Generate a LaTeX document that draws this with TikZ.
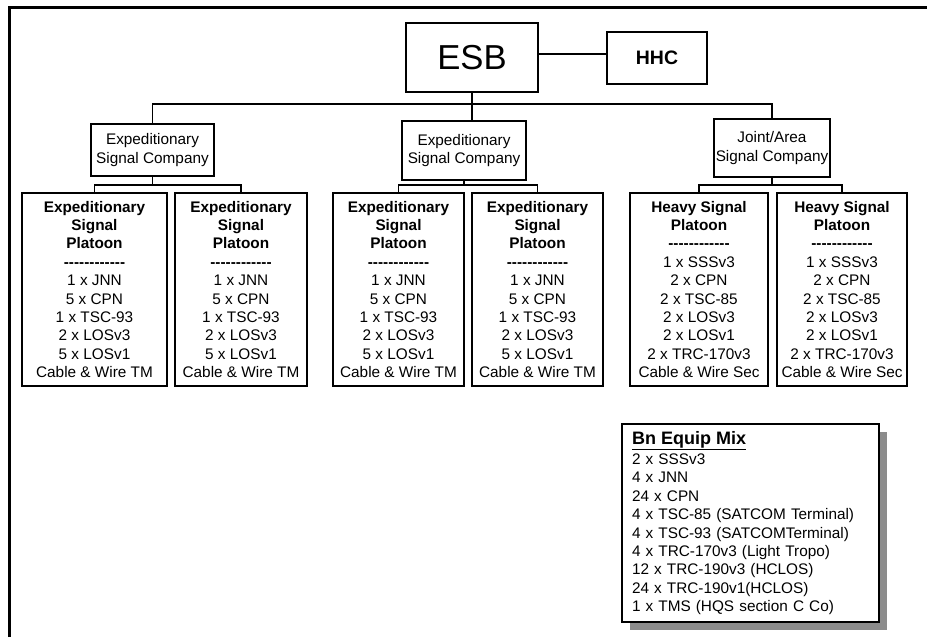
\documentclass[tikz,border=0pt]{standalone}
\usepackage{fontspec}
\setmainfont{Liberation Sans}
\usetikzlibrary{shadows}
\newcommand{\dashrow}{-\kern0pt-\kern0pt-\kern0pt-\kern0pt-\kern0pt-\kern0pt-\kern0pt-\kern0pt-\kern0pt-\kern0pt-\kern0pt-}

\begin{document}
\begin{tikzpicture}[x=0.75pt, y=-0.75pt,
	box/.style={draw, line width=0.8pt, inner sep=0pt, align=center, font=\fontsize{11.5}{13.8}\selectfont},
	platoon/.style={box, minimum height=144.75pt},
	link/.style={line width=0.8pt}]
		\useasboundingbox (0,0) rectangle (927,637);
		%Ramme
		\draw [line width=1.9pt] (9.3,637) -- (9.3,7.3) -- (927,7.3);

		%Bataljon
		\node [box, minimum width=99pt, minimum height=51.75pt, font=\fontsize{26}{30}\selectfont] (esb) at (472,57.5) {ESB};
		\node [box, minimum width=75pt, minimum height=39pt, font=\fontsize{14.6}{17}\selectfont\bfseries] (hhc) at (657,58) {HHC};

		%Kompanier
		\node [box, minimum width=92.25pt, minimum height=39pt] (comA) at (152.5,150) {Expeditionary\\Signal Company};
		\node [box, minimum width=93pt, minimum height=44.25pt] (comB) at (464,150.5) {Expeditionary\\Signal Company};
		\node [box, minimum width=87pt, minimum height=43.5pt] (comC) at (772,148) {Joint/Area\\Signal Company};

		%Tropper
		\foreach \n/\x/\w in {platA1/94.5/145, platA2/241/132, platB1/398.5/131, platB2/537.5/131}{
			\node [platoon, minimum width=\w*0.75] (\n) at (\x,289.5) {\textbf{Expeditionary}\\\textbf{Signal}\\\textbf{Platoon}\\\textbf{\dashrow}\\1 x JNN\\5 x CPN\\1 x TSC-93\\2 x LOSv3\\5 x LOSv1\\Cable \& Wire TM};
		}
		\foreach \n/\x/\w in {platC1/699/138, platC2/842/130}{
			\node [platoon, minimum width=\w*0.75] (\n) at (\x,289.5) {\textbf{Heavy Signal}\\\textbf{Platoon}\\\textbf{\dashrow}\\1 x SSSv3\\2 x CPN\\2 x TSC-85\\2 x LOSv3\\2 x LOSv1\\2 x TRC-170v3\\Cable \& Wire Sec};
		}

		%Linjer
		\draw [link] (esb.east |- 0,54) -- (hhc.west |- 0,54);
		\draw [link] (esb.south) -- (esb.south |- comB.north);
		\draw [link] (comA.north) |- (esb.south |- 0,104) -| (comC.north);
		\foreach \c/\l/\r in {comA/platA1/platA2, comB/platB1/platB2, comC/platC1/platC2}{
			\draw [link] (\c.south) -- (\c.south |- 0,185);
			\draw [link] (\l.north) |- (\c.south |- 0,185) -| (\r.north);
		}

		%Utstyr
		\node [draw, line width=0.8pt, fill=white, minimum width=192.75pt, minimum height=148.5pt, inner xsep=7.5pt, inner ysep=0pt, text width=177.75pt, align=left, font=\fontsize{11.5}{13.8}\selectfont, drop shadow={shadow xshift=6pt, shadow yshift=-6pt, fill=black!45, opacity=1}] (mix) at (750.5,523) {{\fontsize{13.5}{16}\selectfont\bfseries\underline{Bn Equip Mix}}\\[1.5pt]2 x SSSv3\\4 x JNN\\24 x CPN\\4 x TSC-85 (SATCOM Terminal)\\4 x TSC-93 (SATCOMTerminal)\\4 x TRC-170v3 (Light Tropo)\\12 x TRC-190v3 (HCLOS)\\24 x TRC-190v1(HCLOS)\\1 x TMS (HQS section C Co)};
\end{tikzpicture}
\end{document}
